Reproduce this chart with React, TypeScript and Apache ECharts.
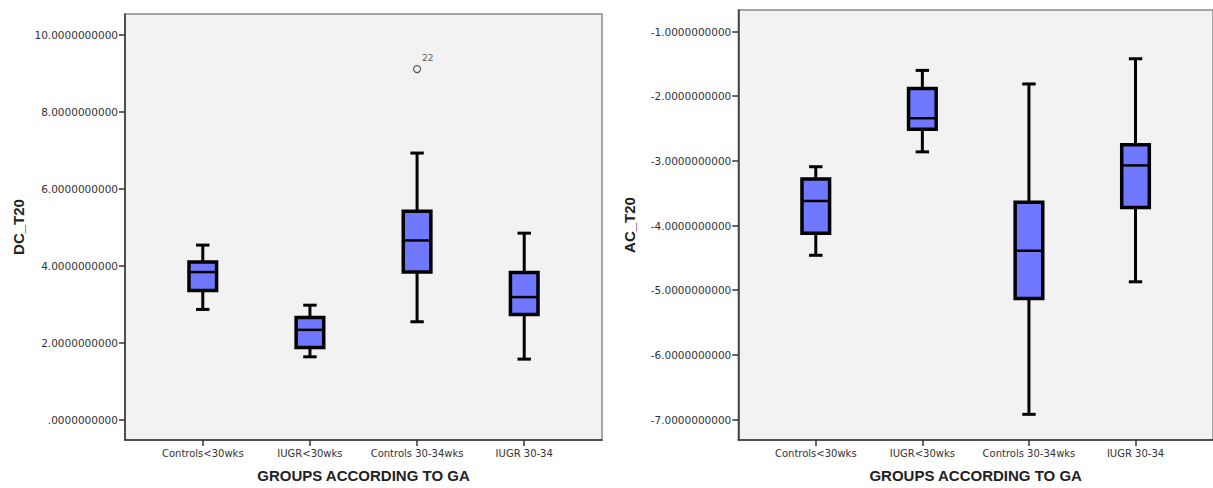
import { useEffect, useRef } from 'react';
import * as echarts from 'echarts';

// ---- data ----
const groups = ['Controls<30wks', 'IUGR<30wks', 'Controls 30-34wks', 'IUGR 30-34'];
const groupIndex = [0, 1, 2, 3];

const dcMin = [2.87, 1.64, 2.55, 1.58];
const dcQ1 = [3.36, 1.88, 3.84, 2.74];
const dcMedian = [3.84, 2.34, 4.66, 3.19];
const dcQ3 = [4.1, 2.66, 5.42, 3.83];
const dcMax = [4.54, 2.98, 6.93, 4.85];
const dcOutlierGroup = [2];
const dcOutlierValue = [9.11];
const dcOutlierCase = ['22'];
const dcTicks = [0, 2, 4, 6, 8, 10];

const acMin = [-4.46, -2.86, -6.92, -4.87];
const acQ1 = [-4.12, -2.51, -5.13, -3.72];
const acMedian = [-3.62, -2.34, -4.39, -3.07];
const acQ3 = [-3.28, -1.88, -3.64, -2.75];
const acMax = [-3.09, -1.6, -1.81, -1.42];
const acTicks = [-7, -6, -5, -4, -3, -2, -1];

const xName = 'GROUPS ACCORDING TO GA';

const fmtY = (v: number) => (Math.abs(v) < 1e-9 ? '.0000000000' : v.toFixed(10));

const renderBox = (_params: any, api: any) => {
  const x = api.value(0);
  const c = (v: number) => api.coord([x, v]);
  const pMin = c(api.value(1));
  const pQ1 = c(api.value(2));
  const pMed = c(api.value(3));
  const pQ3 = c(api.value(4));
  const pMax = c(api.value(5));
  const cx = pMin[0];
  const hb = 13.8;
  const hc = 6.7;
  const ls = { stroke: '#000', lineWidth: 3 };
  return {
    type: 'group',
    children: [
      { type: 'line', shape: { x1: cx, y1: pMax[1], x2: cx, y2: pQ3[1] }, style: ls },
      { type: 'line', shape: { x1: cx, y1: pQ1[1], x2: cx, y2: pMin[1] }, style: ls },
      { type: 'line', shape: { x1: cx - hc, y1: pMax[1], x2: cx + hc, y2: pMax[1] }, style: ls },
      { type: 'line', shape: { x1: cx - hc, y1: pMin[1], x2: cx + hc, y2: pMin[1] }, style: ls },
      {
        type: 'rect',
        shape: { x: cx - hb, y: pQ3[1], width: 2 * hb, height: pQ1[1] - pQ3[1] },
        style: { fill: '#6f78ff', stroke: '#000', lineWidth: 3.5 },
      },
      { type: 'line', shape: { x1: cx - hb, y1: pMed[1], x2: cx + hb, y2: pMed[1] }, style: { stroke: '#000', lineWidth: 2.5 } },
    ],
  };
};

const labelFont = 'DejaVu Sans';
const nameFont = 'Liberation Sans';

const makeXAxis = (gridIndex: number, min: number, max: number) => ({
  type: 'value',
  gridIndex,
  min,
  max,
  name: xName,
  nameLocation: 'middle',
  nameGap: 28,
  nameTextStyle: { fontFamily: nameFont, fontWeight: 'bold', fontSize: 15, color: '#222' },
  axisLine: { show: true, onZero: false, lineStyle: { color: '#333', width: 1.5 } },
  axisTick: { show: true, length: 6, customValues: groupIndex, lineStyle: { color: '#333', width: 1.5 } },
  axisLabel: {
    customValues: groupIndex,
    formatter: (v: number) => groups[Math.round(v)] ?? '',
    fontFamily: labelFont,
    fontSize: 10,
    color: '#333',
    margin: 8,
  },
  splitLine: { show: false },
});

const makeYAxis = (gridIndex: number, min: number, max: number, ticks: number[], name: string, gap: number) => ({
  type: 'value',
  gridIndex,
  min,
  max,
  name,
  nameLocation: 'middle',
  nameGap: gap,
  nameTextStyle: { fontFamily: nameFont, fontWeight: 'bold', fontSize: 15, color: '#222' },
  axisLine: { show: true, onZero: false, lineStyle: { color: '#333', width: 1.5 } },
  axisTick: { show: true, length: 6, customValues: ticks, lineStyle: { color: '#333', width: 1.5 } },
  axisLabel: {
    customValues: ticks,
    formatter: fmtY,
    fontFamily: labelFont,
    fontSize: 10.5,
    color: '#333',
    margin: 7,
  },
  splitLine: { show: false },
});

export default function App() {
  const ref = useRef<HTMLDivElement>(null);
  useEffect(() => {
    if (!ref.current) return;
    const chart = echarts.init(ref.current, undefined, { renderer: 'svg' });
    const dcData = groupIndex.map((i) => [i, dcMin[i], dcQ1[i], dcMedian[i], dcQ3[i], dcMax[i]]);
    const acData = groupIndex.map((i) => [i, acMin[i], acQ1[i], acMedian[i], acQ3[i], acMax[i]]);
    const outliers = dcOutlierGroup.map((g, k) => ({ value: [g, dcOutlierValue[k]], name: dcOutlierCase[k] }));
    chart.setOption({
      animation: false,
      backgroundColor: '#fff',
      grid: [
        { left: 125, top: 14, width: 477, height: 428, show: true, backgroundColor: '#f2f2f2', borderColor: '#8a8a8a', borderWidth: 1.5 },
        { left: 738.3, top: 10, width: 480.5, height: 432.3, show: true, backgroundColor: '#f2f2f2', borderColor: '#8a8a8a', borderWidth: 1.5 },
      ],
      xAxis: [makeXAxis(0, -0.726, 3.726), makeXAxis(1, -0.727, 3.727)],
      yAxis: [
        makeYAxis(0, -0.52, 10.54, dcTicks, 'DC_T20', 99),
        makeYAxis(1, -7.317, -0.666, acTicks, 'AC_T20', 101),
      ],
      series: [
        { type: 'custom', xAxisIndex: 0, yAxisIndex: 0, renderItem: renderBox, encode: { x: 0, y: [1, 2, 3, 4, 5] }, data: dcData, z: 3 },
        { type: 'custom', xAxisIndex: 1, yAxisIndex: 1, renderItem: renderBox, encode: { x: 0, y: [1, 2, 3, 4, 5] }, data: acData, z: 3 },
        {
          type: 'scatter',
          xAxisIndex: 0,
          yAxisIndex: 0,
          symbol: 'circle',
          symbolSize: 7,
          itemStyle: { color: '#f2f2f2', borderColor: '#333', borderWidth: 1.2 },
          label: {
            show: true,
            formatter: (p: any) => p.name,
            position: [9, -11],
            align: 'left',
            verticalAlign: 'top',
            fontFamily: labelFont,
            fontSize: 9,
            color: '#333',
          },
          data: outliers,
          z: 4,
        },
      ],
    });
    return () => chart.dispose();
  }, []);
  return <div ref={ref} style={{ position: 'absolute', left: 0, top: 0, width: 1213, height: 488 }} />;
}
